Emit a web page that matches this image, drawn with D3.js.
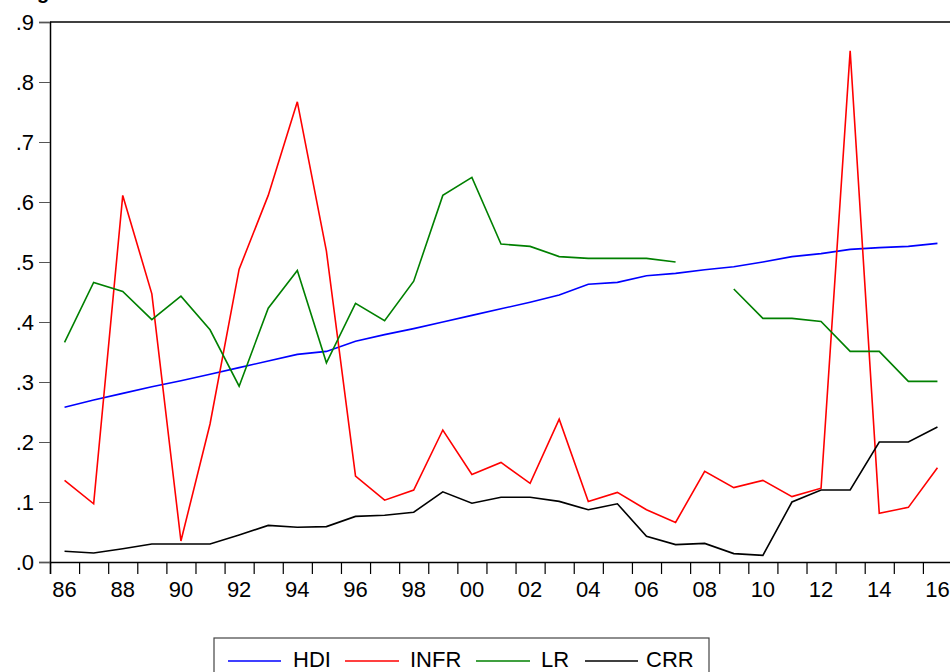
<!DOCTYPE html>
<html lang="en">
<head>
  <meta charset="UTF-8">
  <title>HDI, INFR, LR, CRR</title>
  <style>
    body { margin: 0; background: #fff; }
    svg { display: block; font-family: "Liberation Sans", Arial, sans-serif; }
    .tick text { fill: #000; }
  </style>
</head>
<body>
  <div id="chart"></div>

  <script src="https://d3js.org/d3.v7.min.js"></script>
  <script>
    const years = d3.range(1986, 2017);

    const hdi = [0.258, 0.270, 0.281, 0.292, 0.302, 0.313, 0.324, 0.335, 0.346, 0.351,
                 0.368, 0.379, 0.389, 0.400, 0.411, 0.422, 0.433, 0.445, 0.463, 0.466,
                 0.477, 0.481, 0.487, 0.492, 0.500, 0.509, 0.514, 0.521, 0.524, 0.526, 0.531];
    const infr = [0.136, 0.097, 0.611, 0.447, 0.035, 0.230, 0.488, 0.611, 0.767, 0.518,
                  0.143, 0.103, 0.120, 0.220, 0.146, 0.166, 0.131, 0.238, 0.101, 0.116,
                  0.087, 0.066, 0.151, 0.124, 0.136, 0.109, 0.123, 0.852, 0.081, 0.091, 0.157];
    const lr = [0.366, 0.466, 0.451, 0.404, 0.443, 0.387, 0.293, 0.423, 0.486, 0.332,
                0.431, 0.402, 0.468, 0.611, 0.641, 0.530, 0.526, 0.509, 0.506, 0.506,
                0.506, 0.500, null, 0.455, 0.406, 0.406, 0.401, 0.351, 0.351, 0.301, 0.301];
    const crr = [0.018, 0.015, 0.022, 0.030, 0.030, 0.030, 0.045, 0.061, 0.058, 0.059,
                 0.076, 0.078, 0.083, 0.117, 0.098, 0.108, 0.108, 0.101, 0.087, 0.097,
                 0.043, 0.029, 0.031, 0.014, 0.011, 0.100, 0.120, 0.120, 0.200, 0.200, 0.225];

    const series = [
      { name: 'HDI', values: hdi, color: '#0000ff' },
      { name: 'INFR', values: infr, color: '#ff0000' },
      { name: 'LR', values: lr, color: '#008000' },
      { name: 'CRR', values: crr, color: '#000000' }
    ];

    const width = 950;
    const height = 672;
    const plotLeft = 50, plotRight = 952, plotTop = 22, plotBottom = 562;

    const svg = d3.select('#chart')
      .append('svg')
      .attr('width', width)
      .attr('height', height);

    // heading above the frame, cut off by the top edge like in the source
    svg.append('text')
      .attr('x', 37)
      .attr('y', -1)
      .attr('font-size', 20)
      .attr('font-weight', 'bold')
      .text('g');

    const x = d3.scaleLinear().domain([1986, 2017]).range([plotLeft, plotRight]);
    const y = d3.scaleLinear().domain([0, 0.9]).range([plotBottom, plotTop]);

    // year ticks at the year boundaries, labels in the middle of every other year
    const xAxis = d3.axisBottom(x)
      .tickValues(d3.range(1986, 2017))
      .tickSize(12)
      .tickFormat('');

    svg.append('g')
      .attr('transform', `translate(0,${plotBottom})`)
      .call(xAxis)
      .call(g => g.select('.domain').attr('stroke-width', 1.5))
      .call(g => g.selectAll('.tick line').attr('stroke-width', 1.2));

    svg.append('g')
      .selectAll('text')
      .data(years.filter(d => d % 2 === 0))
      .join('text')
      .attr('x', d => x(d + 0.5))
      .attr('y', plotBottom + 35)
      .attr('text-anchor', 'middle')
      .attr('font-size', 22)
      .text(d => String(d).slice(2));

    const yAxis = d3.axisLeft(y)
      .tickValues(d3.range(0, 10).map(d => d / 10))
      .tickSize(11)
      .tickPadding(5)
      .tickFormat(d => d3.format('.1f')(d).replace(/^0/, ''));

    svg.append('g')
      .attr('transform', `translate(${plotLeft},0)`)
      .call(yAxis)
      .call(g => g.select('.domain').attr('stroke-width', 1.5))
      .call(g => g.selectAll('.tick line').attr('stroke', '#555'))
      .call(g => g.selectAll('.tick text').attr('font-size', 22).attr('font-family', null));

    // top border of the frame
    svg.append('line')
      .attr('x1', plotLeft).attr('x2', plotRight)
      .attr('y1', plotTop).attr('y2', plotTop)
      .attr('stroke', '#000')
      .attr('stroke-width', 1.5);

    const line = d3.line()
      .defined(d => d.v != null)
      .x(d => x(d.year + 0.5))
      .y(d => y(d.v));

    svg.append('g')
      .selectAll('path')
      .data(series)
      .join('path')
      .attr('fill', 'none')
      .attr('stroke', d => d.color)
      .attr('stroke-width', 1.6)
      .attr('d', d => line(years.map((yr, i) => ({ year: yr, v: d.values[i] }))));

    // legend
    const legendItems = [
      { x1: 228, x2: 281, tx: 293 },
      { x1: 345, x2: 399, tx: 410 },
      { x1: 476, x2: 530, tx: 541 },
      { x1: 585, x2: 638, tx: 646 }
    ];

    const legend = svg.append('g');
    legend.append('rect')
      .attr('x', 214).attr('y', 638)
      .attr('width', 495).attr('height', 60)
      .attr('fill', 'none')
      .attr('stroke', '#444')
      .attr('stroke-width', 1.2);

    const item = legend.selectAll('g')
      .data(series)
      .join('g');
    item.append('line')
      .attr('x1', (d, i) => legendItems[i].x1)
      .attr('x2', (d, i) => legendItems[i].x2)
      .attr('y1', 661).attr('y2', 661)
      .attr('stroke', d => d.color)
      .attr('stroke-width', 1.5);
    item.append('text')
      .attr('x', (d, i) => legendItems[i].tx)
      .attr('y', 667)
      .attr('font-size', 22)
      .text(d => d.name);
  </script>
</body>
</html>
